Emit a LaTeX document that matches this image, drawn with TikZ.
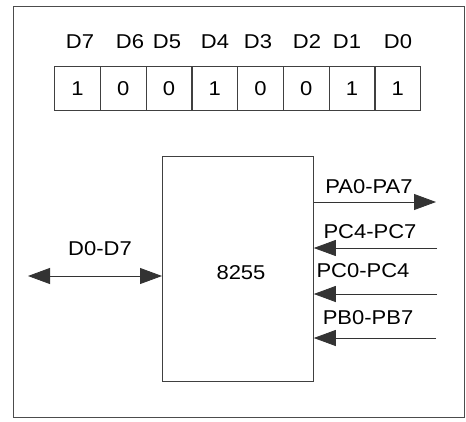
\documentclass[tikz,border=0pt]{standalone}
\usepackage{fontspec}
\setmainfont{Liberation Sans}[FakeStretch=1.1]
\usetikzlibrary{arrows.meta}
\begin{document}
\begin{tikzpicture}[x=1pt,y=-1pt,
  lbl/.style={font=\fontsize{20}{22}\selectfont, inner sep=0pt, text=black},
  bit/.style={draw=black!75, line width=0.8pt, minimum width=46pt, minimum height=44pt, inner sep=0pt, anchor=north west, font=\fontsize{20}{22}\selectfont, text=black},
  wire/.style={draw=black!80, line width=0.8pt},
  tip/.style={-{Triangle[length=22pt,width=16pt]}},
  dtip/.style={{Triangle[length=22pt,width=16pt]}-{Triangle[length=22pt,width=16pt]}}]
\useasboundingbox (0,0) rectangle (466,421);
\fill[white] (0,0) rectangle (466,421);
\draw[draw=black!70, line width=0.8pt] (13,6) rectangle (464,417);
% register
\foreach \v [count=\i from 0] in {1,0,0,1,0,0,1,1} {
  \node[bit] (c\i) at ({54+\i*45.75},66) {\v};
}
\foreach \t/\x in {D7/80,D6/130,D5/167,D4/215,D3/258,D2/307,D1/347,D0/398} {
  \node[lbl] (l\t) at (\x,42) {\t};
}
% chip
\node[draw=black!75, line width=0.8pt, minimum width=151pt, minimum height=225pt, anchor=north west, inner sep=0pt] (chip) at (162,156) {};
\node[lbl] (name) at (241,273) {8255};
% D0-D7
\coordinate (dl) at (28,276);
\draw[wire,dtip] (dl) -- (chip.west |- dl);
\node[lbl] (dlab) at (100,249) {D0-D7};
% right side
\coordinate (pa) at (436,202);
\coordinate (pc1) at (437,248);
\coordinate (pc2) at (437,294);
\coordinate (pb) at (436,338);
\draw[wire,tip] (chip.east |- pa) -- (pa);
\draw[wire,tip] (pc1) -- (chip.east |- pc1);
\draw[wire,tip] (pc2) -- (chip.east |- pc2);
\draw[wire,tip] (pb) -- (chip.east |- pb);
\node[lbl] (tpa) at (369,187) {PA0-PA7};
\node[lbl] (tpc1) at (370,232) {PC4-PC7};
\node[lbl] (tpc2) at (363,271) {PC0-PC4};
\node[lbl] (tpb) at (368,318) {PB0-PB7};
\end{tikzpicture}
\end{document}
